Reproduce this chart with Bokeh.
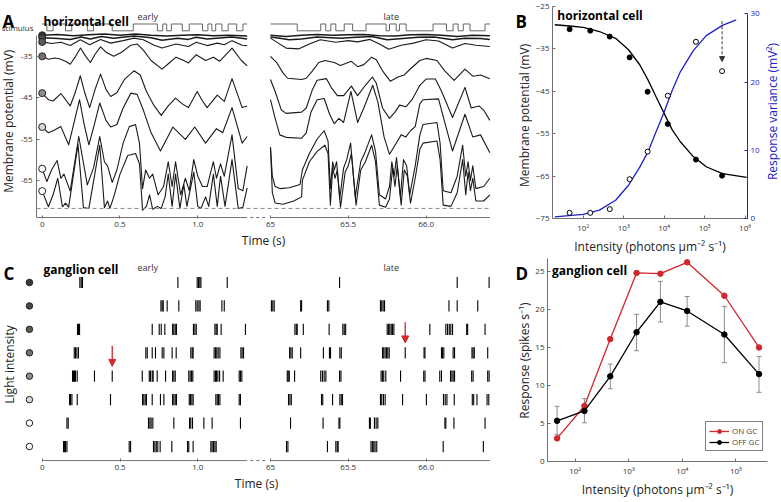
from bokeh.plotting import figure
from bokeh.models import (Range1d, LinearAxis, FixedTicker, Label, Span, Arrow,
                          NormalHead, Whisker, TeeHead, ColumnDataSource)
from bokeh.layouts import column, row
from bokeh.embed import file_html
from bokeh.resources import INLINE

FONT = "Open Sans"
RED = "#d1262c"
BLUE = "#2020c8"
AX = "#707070"
TXT = "#222222"

# ------------------------------------------------------------------ data A
hc_early_1 = [(0.0, -29.9), (0.1, -29.7), (0.2, -30.0), (0.3, -29.8), (0.4, -29.6), (0.5, -29.9), (0.6, -29.6),
              (0.7, -29.9), (0.8, -30.1), (0.9, -29.9), (1.0, -29.8), (1.1, -30.0), (1.2, -29.9), (1.317, -30.1)]
hc_early_2 = [(0.0, -30.5), (0.1, -30.7), (0.18, -30.9), (0.25, -30.3), (0.31, -30.8), (0.38, -30.2), (0.46, -30.6),
              (0.59, -30.1), (0.7, -30.5), (0.77, -31.1), (0.87, -30.6), (0.94, -30.9), (0.99, -30.4), (1.06, -30.8),
              (1.22, -30.3), (1.317, -30.8)]
hc_early_3 = [(0.0, -31.5), (0.06, -31.9), (0.12, -31.6), (0.18, -32.4), (0.245, -31.0), (0.305, -32.2), (0.375, -30.9),
              (0.44, -31.8), (0.52, -31.2), (0.59, -30.6), (0.65, -31.0), (0.72, -32.3), (0.77, -33.0), (0.86, -32.0),
              (0.94, -32.6), (0.99, -31.6), (1.06, -32.4), (1.125, -31.8), (1.17, -32.2), (1.22, -31.2), (1.285, -32.3),
              (1.317, -32.4)]
hc_early_4 = [(0.0, -35.0), (0.04, -35.7), (0.08, -35.4), (0.11, -35.6), (0.15, -36.2), (0.18, -36.9), (0.215, -35.0),
              (0.246, -33.0), (0.28, -35.0), (0.31, -36.5), (0.34, -34.5), (0.375, -32.7), (0.41, -34.0), (0.46, -35.0),
              (0.51, -34.0), (0.57, -32.3), (0.61, -32.0), (0.65, -33.5), (0.70, -36.0), (0.77, -38.1), (0.82, -36.5),
              (0.86, -35.2), (0.91, -36.0), (0.94, -36.6), (0.99, -34.6), (1.05, -36.0), (1.10, -35.2), (1.14, -36.2),
              (1.22, -33.0), (1.28, -36.0), (1.317, -37.3)]
hc_early_5 = [(0.0, -43.9), (0.04, -45.5), (0.07, -45.8), (0.12, -44.0), (0.18, -47.0), (0.21, -44.0), (0.245, -39.7),
              (0.275, -44.0), (0.305, -47.4), (0.34, -43.0), (0.375, -39.3), (0.41, -43.0), (0.44, -44.7), (0.48, -43.8),
              (0.53, -40.5), (0.59, -38.5), (0.63, -39.5), (0.67, -43.5), (0.72, -47.0), (0.765, -49.3), (0.81, -47.0),
              (0.857, -45.1), (0.90, -46.5), (0.94, -47.4), (0.996, -43.5), (1.03, -45.8), (1.06, -47.4), (1.125, -44.4),
              (1.17, -45.9), (1.22, -40.4), (1.285, -47.4), (1.317, -47.0)]
hc_early_6 = [(0.0, -52.1), (0.04, -53.5), (0.08, -52.8), (0.12, -52.0), (0.17, -56.4), (0.205, -51.0), (0.24, -45.5),
              (0.27, -51.5), (0.30, -56.4), (0.335, -51.5), (0.37, -46.3), (0.41, -50.5), (0.44, -52.1), (0.48, -51.5),
              (0.52, -47.5), (0.57, -43.9), (0.61, -44.2), (0.65, -48.0), (0.70, -53.5), (0.76, -57.9), (0.84, -52.1),
              (0.92, -55.1), (0.98, -52.1), (1.05, -56.0), (1.12, -52.5), (1.16, -53.5), (1.22, -47.4), (1.285, -56.0),
              (1.317, -54.4)]
hc_early_7 = [(0.0, -62.2), (0.03, -65.3), (0.06, -62.5), (0.096, -60.2), (0.12, -64.5), (0.14, -63.5), (0.18, -67.6),
              (0.235, -54.4), (0.29, -66.1), (0.33, -62.0), (0.37, -54.4), (0.40, -60.5), (0.42, -61.5), (0.45, -65.5),
              (0.48, -62.5), (0.52, -56.0), (0.56, -52.0), (0.60, -51.5), (0.625, -56.0), (0.645, -67.0), (0.665, -62.5),
              (0.69, -64.5), (0.71, -63.5), (0.745, -68.5), (0.78, -66.5), (0.81, -60.5), (0.835, -66.5), (0.857, -60.5),
              (0.89, -68.5), (0.92, -64.5), (0.945, -67.5), (0.974, -60.0), (1.00, -64.0), (1.03, -66.5), (1.06, -66.5),
              (1.10, -60.5), (1.12, -64.5), (1.146, -61.0), (1.17, -64.0), (1.22, -54.0), (1.26, -67.0), (1.29, -67.5),
              (1.317, -61.5)]
hc_early_8 = [(0.0, -67.6), (0.04, -71.4), (0.07, -68.5), (0.10, -64.5), (0.13, -71.4), (0.15, -70.5), (0.17, -71.5),
              (0.23, -56.3), (0.265, -71.6), (0.30, -71.8), (0.37, -56.5), (0.40, -71.6), (0.42, -70.0), (0.435, -71.8),
              (0.46, -69.0), (0.50, -63.5), (0.55, -59.0), (0.60, -58.5), (0.625, -61.0), (0.645, -72.2), (0.67, -71.3),
              (0.69, -68.5), (0.71, -72.0), (0.74, -71.3), (0.765, -71.8), (0.79, -69.0), (0.81, -63.5), (0.835, -71.3),
              (0.857, -63.5), (0.885, -71.8), (0.91, -66.0), (0.93, -71.3), (0.974, -63.0), (1.00, -71.3), (1.02, -71.8),
              (1.05, -69.0), (1.07, -71.3), (1.10, -63.5), (1.125, -71.3), (1.146, -64.0), (1.175, -71.3), (1.22, -60.0),
              (1.26, -71.8), (1.29, -71.5), (1.317, -66.8)]

hc_late_1 = [(65.0, -29.9), (65.1, -30.2), (65.2, -29.9), (65.3, -29.7), (65.4, -29.9), (65.5, -29.8), (65.6, -29.7),
             (65.7, -30.0), (65.8, -30.1), (65.9, -29.8), (66.0, -29.7), (66.1, -29.9), (66.2, -30.2), (66.3, -29.9),
             (66.41, -30.0)]
hc_late_2 = [(65.0, -30.3), (65.06, -30.6), (65.12, -31.0), (65.2, -30.8), (65.3, -30.3), (65.45, -30.6), (65.55, -30.4),
             (65.65, -30.2), (65.75, -31.0), (65.85, -30.7), (65.95, -30.4), (66.05, -30.3), (66.17, -31.0),
             (66.25, -30.6), (66.35, -30.7), (66.41, -30.9)]
hc_late_3 = [(65.0, -30.6), (65.05, -31.8), (65.1, -33.0), (65.18, -33.2), (65.25, -32.0), (65.32, -31.0), (65.42, -31.6),
             (65.5, -31.2), (65.56, -31.5), (65.64, -30.9), (65.7, -32.0), (65.76, -33.3), (65.84, -32.3), (65.92, -31.8),
             (66.0, -31.0), (66.08, -31.3), (66.17, -33.0), (66.25, -31.9), (66.32, -32.3), (66.41, -32.6)]
hc_late_4 = [(65.00, -35.0), (65.04, -36.5), (65.08, -39.0), (65.11, -40.3), (65.20, -40.6), (65.23, -40.3),
             (65.27, -38.5), (65.31, -36.5), (65.35, -36.0), (65.41, -36.5), (65.45, -37.2), (65.52, -36.2),
             (65.56, -37.5), (65.60, -37.0), (65.65, -35.2), (65.68, -35.8), (65.72, -38.5), (65.77, -41.0),
             (65.82, -40.0), (65.86, -39.5), (65.90, -38.0), (65.96, -36.0), (66.00, -35.5), (66.07, -36.0),
             (66.12, -38.5), (66.18, -40.8), (66.25, -38.1), (66.30, -39.8), (66.35, -39.5), (66.41, -40.4)]
hc_late_5 = [(65.00, -40.6), (65.03, -43.5), (65.07, -48.0), (65.10, -48.8), (65.20, -48.5), (65.23, -47.5),
             (65.27, -43.0), (65.30, -40.8), (65.36, -40.4), (65.39, -42.5), (65.43, -44.5), (65.47, -44.5),
             (65.52, -42.2), (65.56, -44.5), (65.61, -42.0), (65.655, -40.0), (65.68, -41.5), (65.72, -47.5),
             (65.765, -50.0), (65.80, -48.5), (65.83, -46.8), (65.87, -47.2), (65.91, -45.5), (65.96, -42.0),
             (66.00, -40.5), (66.06, -40.5), (66.10, -43.5), (66.17, -49.8), (66.25, -42.5), (66.29, -47.5),
             (66.34, -47.0), (66.37, -48.0), (66.41, -50.5)]
hc_late_6 = [(65.00, -45.5), (65.03, -50.0), (65.06, -54.0), (65.10, -54.6), (65.20, -54.8), (65.23, -53.5),
             (65.26, -48.5), (65.30, -45.5), (65.345, -45.2), (65.38, -49.0), (65.41, -51.3), (65.44, -50.0),
             (65.47, -51.0), (65.517, -43.5), (65.56, -51.0), (65.60, -47.5), (65.657, -42.0), (65.69, -46.0),
             (65.73, -54.5), (65.765, -58.7), (65.80, -56.5), (65.84, -54.0), (65.87, -54.5), (65.90, -53.0),
             (65.93, -52.0), (65.96, -46.5), (65.98, -45.5), (66.08, -45.3), (66.12, -51.0), (66.17, -57.9),
             (66.25, -49.0), (66.30, -54.5), (66.35, -54.0), (66.41, -58.3)]
hc_late_7 = [(65.00, -57.0), (65.012, -64.0), (65.03, -66.5), (65.06, -67.0), (65.12, -66.8), (65.19, -66.0),
             (65.205, -62.5), (65.25, -58.5), (65.30, -55.0), (65.345, -53.0), (65.37, -55.5), (65.385, -67.0),
             (65.40, -60.5), (65.41, -62.5), (65.425, -60.5), (65.445, -69.5), (65.47, -62.0), (65.49, -60.0),
             (65.515, -56.0), (65.545, -69.0), (65.58, -60.5), (65.61, -58.0), (65.65, -54.0), (65.675, -58.0),
             (65.70, -68.5), (65.74, -69.5), (65.765, -66.5), (65.78, -60.5), (65.795, -64.0), (65.81, -59.5),
             (65.835, -69.0), (65.855, -60.0), (65.875, -61.5), (65.895, -68.5), (65.93, -61.5), (65.96, -54.0),
             (65.98, -51.5), (66.07, -51.0), (66.09, -56.0), (66.11, -67.5), (66.16, -68.0), (66.20, -64.0),
             (66.235, -56.5), (66.255, -64.0), (66.27, -60.5), (66.285, -65.0), (66.30, -61.5), (66.32, -67.0),
             (66.37, -66.5), (66.41, -64.5)]
hc_late_8 = [(65.00, -57.0), (65.012, -68.0), (65.03, -70.5), (65.08, -70.8), (65.15, -70.0), (65.20, -69.0),
             (65.205, -65.0), (65.25, -60.5), (65.30, -58.0), (65.35, -56.5), (65.37, -58.5), (65.385, -71.0),
             (65.40, -62.0), (65.415, -64.5), (65.43, -62.5), (65.45, -71.5), (65.48, -63.0), (65.50, -61.5),
             (65.52, -58.5), (65.55, -71.0), (65.58, -62.5), (65.61, -60.5), (65.65, -56.5), (65.675, -60.5),
             (65.70, -71.0), (65.74, -71.5), (65.765, -69.5), (65.785, -62.0), (65.80, -66.5), (65.815, -61.5),
             (65.84, -71.0), (65.86, -62.5), (65.88, -64.0), (65.90, -70.5), (65.93, -64.5), (65.96, -57.5),
             (65.98, -56.0), (66.07, -55.5), (66.09, -60.0), (66.11, -71.0), (66.16, -71.3), (66.20, -68.0),
             (66.235, -60.0), (66.255, -68.5), (66.27, -63.0), (66.285, -67.5), (66.30, -64.5), (66.32, -70.0),
             (66.37, -70.0), (66.41, -68.5)]

hc_early = [hc_early_1, hc_early_2, hc_early_3, hc_early_4, hc_early_5, hc_early_6, hc_early_7, hc_early_8]
hc_late = [hc_late_1, hc_late_2, hc_late_3, hc_late_4, hc_late_5, hc_late_6, hc_late_7, hc_late_8]

stim_early_t = [0.0, 0.03, 0.07, 0.15, 0.19, 0.29, 0.33, 0.45, 0.585, 0.74, 0.775, 0.80, 0.83, 0.90, 0.945,
                1.03, 1.065, 1.09, 1.115, 1.155, 1.195, 1.25, 1.29, 1.317]
stim_early_lvl = [1, 0, 1, 0, 1, 0, 1, 0, 1, 0, 1, 0, 1, 0, 1, 0, 1, 0, 1, 0, 1, 0, 1, 1]
stim_late_t = [65.0, 65.172, 65.323, 65.355, 65.388, 65.420, 65.474, 65.528, 65.614, 65.743, 65.765, 65.808,
               65.829, 65.872, 66.045, 66.131, 66.174, 66.206, 66.239, 66.282, 66.379, 66.41]
stim_late_lvl = [1, 0, 1, 0, 1, 0, 1, 0, 1, 0, 1, 0, 1, 0, 1, 0, 1, 0, 1, 0, 1, 1]

baseline_mv = -71.8
a_yticks = [-35, -45, -55, -65]
light_fill = ["#3a3a3a", "#4a4a4a", "#5a5a5a", "#717171", "#8e8e8e", "#d8d8d8", "#ffffff", "#ffffff"]

# ------------------------------------------------------------------ data B
intensity = [46, 149, 452, 1400, 3900, 12300, 61000, 270000]
b_potential = [-30.35, -30.7, -32.1, -37.0, -45.1, -52.7, -61.1, -64.9]
b_variance = [0.83, 0.83, 1.37, 5.76, 9.8, 18.0, 25.9, 21.6]
b_fit_pot_x = [19.8, 46.1, 100, 251, 631, 1318, 2512, 3981, 6310, 10000, 15849, 25119, 52481, 109648, 275423, 1096478]
b_fit_pot_y = [-29.3, -29.6, -29.9, -30.9, -32.5, -35.2, -38.8, -42.3, -46.3, -50.2, -54.1, -56.9, -60.4, -62.8,
               -64.4, -65.3]
b_fit_var_x = [19.8, 100, 251, 631, 1318, 2512, 3981, 6310, 10000, 15849, 25119, 52481, 109648, 275423, 602560]
b_fit_var_y = [0.24, 0.59, 1.22, 2.68, 4.88, 7.56, 9.76, 12.7, 15.6, 18.8, 21.5, 24.6, 26.8, 28.3, 29.1]
b_arrow = (270000, 28.9, 23.0)

# ------------------------------------------------------------------ data C (spike times, s)
gc_early = [
    [0.242, 0.251, 0.259, 0.872, 0.996, 1.005, 1.013, 1.020, 1.189],
    [0.763, 0.771, 0.778, 0.803, 0.878, 0.987, 0.996, 1.007, 1.015, 1.155, 1.170],
    [0.227, 0.233, 0.240, 0.707, 0.752, 0.765, 0.788, 0.838, 0.846, 0.855, 0.863, 0.972, 0.981, 0.990, 1.110,
     1.118, 1.125, 1.150, 1.306],
    [0.206, 0.214, 0.223, 0.233, 0.666, 0.675, 0.707, 0.728, 0.771, 0.782, 0.835, 0.861, 0.955, 0.964, 0.970,
     1.105, 1.114, 1.122, 1.131, 1.142, 1.277, 1.285, 1.294],
    [0.195, 0.201, 0.208, 0.214, 0.225, 0.336, 0.450, 0.643, 0.688, 0.696, 0.707, 0.713, 0.739, 0.793, 0.838,
     0.846, 0.855, 0.942, 0.951, 0.960, 0.968, 1.105, 1.114, 1.120, 1.129, 1.140, 1.163, 1.266, 1.274, 1.283],
    [0.176, 0.182, 0.191, 0.225, 0.439, 0.645, 0.653, 0.662, 0.670, 0.707, 0.760, 0.782, 0.838, 0.846, 0.855,
     0.863, 0.945, 0.953, 0.962, 0.970, 1.116, 1.125, 1.133, 1.142, 1.266, 1.274],
    [0.159, 0.167, 0.683, 0.692, 0.700, 0.711, 0.846, 0.947, 0.955, 0.966, 1.039, 1.092, 1.274],
    [0.137, 0.144, 0.150, 0.159, 0.559, 0.568, 0.715, 0.724, 0.733, 0.743, 0.758, 0.833, 0.934, 0.942, 0.970,
     1.084, 1.092, 1.101, 1.110, 1.118],
]
gc_late = [
    [65.444, 66.200, 66.405],
    [65.006, 65.015, 65.024, 65.194, 65.200, 65.366, 65.375, 65.707, 65.715, 65.724, 65.733, 66.147, 66.200, 66.332],
    [65.157, 65.166, 65.172, 65.211, 65.377, 65.465, 65.474, 65.483, 65.750, 65.759, 65.767, 65.776, 65.784,
     65.793, 66.024, 66.127, 66.138, 66.149, 66.159, 66.170, 66.261, 66.267, 66.379],
    [65.123, 65.131, 65.140, 65.194, 65.340, 65.379, 65.386, 65.446, 65.455, 65.720, 65.728, 65.737, 65.746,
     65.754, 65.763, 65.866, 65.987, 65.993, 66.099, 66.105, 66.114, 66.174, 66.183, 66.295, 66.302, 66.310, 66.396],
    [65.108, 65.114, 65.121, 65.155, 65.323, 65.334, 65.345, 65.356, 65.444, 65.453, 65.711, 65.720, 65.728,
     65.741, 65.836, 65.985, 65.993, 66.088, 66.099, 66.157, 66.166, 66.174, 66.183, 66.293, 66.302, 66.396, 66.405],
    [65.116, 65.125, 65.134, 65.328, 65.336, 65.399, 65.446, 65.455, 65.463, 65.707, 65.715, 65.726, 65.737,
     65.849, 66.002, 66.112, 66.123, 66.134, 66.181, 66.297, 66.306, 66.327, 66.392, 66.403],
    [65.129, 65.338, 65.440, 65.446, 65.636, 65.642, 65.668, 65.679, 65.690, 66.121, 66.127, 66.179, 66.379],
    [65.103, 65.112, 65.366, 65.420, 65.429, 65.435, 65.646, 65.655, 65.664, 65.672, 65.683, 66.110, 66.368],
]
gc_arrows = [(0.450, 5), (65.866, 4)]   # (time, row) of the marked spikes

# ------------------------------------------------------------------ data D
on_gc = [3.04, 7.3, 16.1, 24.8, 24.7, 26.2, 21.8, 15.0]
off_gc = [5.35, 6.65, 11.2, 17.0, 21.0, 19.8, 16.7, 11.5]
off_hi = [7.26, 8.26, 12.8, 19.35, 23.7, 21.7, 20.4, 13.8]
off_lo = [3.57, 5.09, 9.57, 14.57, 18.35, 17.8, 13.0, 9.1]

# ------------------------------------------------------------------ layout constants
EARLY_END = 1.317
LATE_SHIFT = 65.0 - 1.467          # late times drawn shifted left to close the gap
time_ticks = [0.0, 0.5, 1.0, 65.0, 65.5, 66.0]
time_labels = ["0", "0.5", "1.0", "65", "65.5", "66.0"]
BOTTOM = 40
TOP_H = 258
BOT_H = 243


def tx(t):
    return t - LATE_SHIFT if t >= 60 else t


def style(p):
    p.xgrid.visible = False
    p.ygrid.visible = False
    p.outline_line_color = None
    p.background_fill_color = "white"
    p.border_fill_color = "white"
    for ax in p.axis:
        ax.axis_label_text_font = FONT
        ax.axis_label_text_font_size = "12px"
        ax.axis_label_text_font_style = "normal"
        ax.axis_label_text_color = TXT
        ax.axis_label_text_line_height = 1.0
        ax.axis_label_standoff = 2
        ax.major_label_text_font = FONT
        ax.major_label_text_font_size = "8px"
        ax.major_label_text_line_height = 1.0
        ax.major_label_text_color = "#333333"
        ax.major_label_standoff = 3
        ax.major_tick_in = 3
        ax.major_tick_out = 0
        ax.minor_tick_in = 0
        ax.minor_tick_out = 0
        ax.major_tick_line_color = AX
        ax.axis_line_color = AX


def fig(w, h, xr, yr, left, right, top, **kw):
    return figure(width=w, height=h, x_range=xr, y_range=yr, min_border_left=left, min_border_right=right,
                  min_border_top=top, min_border_bottom=BOTTOM, output_backend="svg", toolbar_location=None, **kw)


def gutter(w, h, yr):
    """Narrow frame beside a panel that carries the texts sitting outside the panel's own frame."""
    g = fig(w, h, Range1d(0, w), yr, 0, 0, 0)
    g.yaxis.visible = False
    g.xaxis.axis_label = " "
    style(g)
    g.xaxis.ticker = FixedTicker(ticks=[w / 2])
    g.xaxis.major_label_overrides = {w / 2: " "}
    g.xaxis.axis_line_color = None
    g.xaxis.major_tick_line_color = None
    return g


def lab(p, x, y, text, size="12px", bold=False, color=TXT, align="left", baseline="alphabetic", angle=0):
    p.add_layout(Label(x=x, y=y, text=text, text_font=FONT, text_font_size=size,
                       text_font_style="bold" if bold else "normal", text_color=color,
                       text_align=align, text_baseline=baseline, angle=angle, angle_units="deg"))


def time_axis(p, y_line, x_start):
    p.xaxis.ticker = FixedTicker(ticks=[tx(t) for t in time_ticks])
    p.xaxis.major_label_overrides = {tx(t): s for t, s in zip(time_ticks, time_labels)}
    p.xaxis.axis_line_color = None
    p.segment(x0=[x_start, tx(65.0)], y0=[y_line, y_line], x1=[EARLY_END, tx(66.41)], y1=[y_line, y_line],
              line_color=AX, line_width=1)
    p.segment(x0=[EARLY_END + 0.02], y0=[y_line], x1=[tx(65.0) - 0.02], y1=[y_line],
              line_color=AX, line_width=1, line_dash="3 3")


# ------------------------------------------------------------------ panel A
yA = Range1d(-74.235, -22.94)
gA = gutter(34, TOP_H, yA)
pA = fig(472, TOP_H, Range1d(-0.0366, 2.881), yA, 2, 16, 0)
pA.extra_y_ranges = {"stim": Range1d(-27.57, 3.57)}
pA.xaxis.axis_label = "Time (s)"
style(pA)
pA.yaxis.ticker = FixedTicker(ticks=a_yticks)
pA.yaxis.major_label_overrides = {v: "" for v in a_yticks}
pA.yaxis.major_label_standoff = 0
pA.yaxis.bounds = (-74.0, -30.0)
time_axis(pA, -74.0, -0.0366)

pA.add_layout(Span(location=baseline_mv, dimension="width", line_color="#8a8a8a", line_width=1, line_dash="4 3"))
pA.step(x=stim_early_t, y=stim_early_lvl, mode="after", y_range_name="stim", line_color="#666666", line_width=1)
pA.step(x=[tx(t) for t in stim_late_t], y=stim_late_lvl, mode="after", y_range_name="stim",
        line_color="#666666", line_width=1)
for i, (tr_e, tr_l) in enumerate(zip(hc_early, hc_late)):
    w = 1.5 if i < 2 else 1.1
    pA.line(x=[t for t, v in tr_e], y=[v for t, v in tr_e], line_color="#1a1a1a", line_width=w, line_join="round")
    pA.line(x=[tx(t) for t, v in tr_l], y=[v for t, v in tr_l], line_color="#1a1a1a", line_width=w,
            line_join="round")
pA.scatter(x=[tr[0][0] for tr in hc_early], y=[tr[0][1] for tr in hc_early], size=7,
           fill_color=light_fill, line_color="#222222", line_width=1)

lab(gA, 2, -26.47, "A", size="17px", bold=True, color="black")
lab(gA, 33, -28.1, "stimulus", size="8px", color="#333333", align="right")
for v in a_yticks:
    lab(gA, 32, v, str(v), size="8px", color="#333333", align="right", baseline="middle")
lab(gA, 8, -50.7, "Membrane potential (mV)", align="center", baseline="middle", angle=90)
lab(pA, 0.008, -26.47, "horizontal cell", bold=True, color="black")
lab(pA, 0.612, -25.29, "early", size="9px", color="#333333")
lab(pA, 2.193, -25.29, "late", size="9px", color="#333333")

# ------------------------------------------------------------------ panel B
yB = Range1d(-75, -25)
PIX_TOP = Range1d(TOP_H - BOTTOM, 0)        # gutters of the top row, measured in pixels from the top
gB = gutter(26, TOP_H, PIX_TOP)
pB = fig(231, TOP_H, Range1d(10 ** 1.24, 10 ** 6.06), yB, 18, 16, 6, x_axis_type="log")
gBR = gutter(17, TOP_H, Range1d(TOP_H - BOTTOM, 0))
pB.extra_y_ranges = {"var": Range1d(0, 31.07)}
axR = LinearAxis(y_range_name="var")
pB.add_layout(axR, "right")
pB.xaxis.axis_label = "Intensity (photons µm⁻² s⁻¹)"
style(pB)
pB.xaxis.ticker = FixedTicker(ticks=[1e2, 1e3, 1e4, 1e5, 1e6])
pB.xaxis.major_label_overrides = {1e2: "10²", 1e3: "10³", 1e4: "10⁴", 1e5: "10⁵", 1e6: "10⁶"}
pB.yaxis[0].ticker = FixedTicker(ticks=[-25, -35, -45, -55, -65, -75])
axR.ticker = FixedTicker(ticks=[0, 10, 20, 30])
axR.bounds = (0, 30)
axR.axis_line_color = BLUE
axR.major_tick_line_color = BLUE
axR.major_label_text_color = BLUE

pB.line(x=b_fit_pot_x, y=b_fit_pot_y, line_color="black", line_width=1.3)
pB.line(x=b_fit_var_x, y=b_fit_var_y, line_color=BLUE, line_width=1.3, y_range_name="var")
pB.scatter(x=intensity, y=b_potential, size=5, fill_color="black", line_color="black")
pB.scatter(x=intensity, y=b_variance, size=5, fill_color="white", line_color="black", line_width=1,
           y_range_name="var")
pB.add_layout(Arrow(end=NormalHead(size=5, fill_color="#333333", line_color="#333333"),
                    x_start=b_arrow[0], y_start=b_arrow[1], x_end=b_arrow[0], y_end=b_arrow[2],
                    line_color="#333333", line_width=1, line_dash="3 2", y_range_name="var"))
lab(gB, 9, 15, "B", size="17px", bold=True, color="black")
lab(gB, 18, 112, "Membrane potential (mV)", align="center", baseline="middle", angle=90)
lab(gBR, 9, 108, "Response variance (mV²)", color=BLUE, align="center", baseline="middle", angle=90)
lab(pB, 22.9, -27.12, "horizontal cell", bold=True, color="black")

# ------------------------------------------------------------------ panel C
C_TOP = TOP_H
yC = Range1d(8.64, -0.0243)
PIX_BOT = Range1d(C_TOP + BOT_H - BOTTOM, C_TOP)   # gutters of the bottom row, in page pixels
gC = gutter(22, BOT_H, PIX_BOT)
pC = fig(484, BOT_H, Range1d(-0.1266, 2.881), yC, 0, 16, 0)
pC.xaxis.axis_label = "Time (s)"
style(pC)
pC.yaxis.visible = False
time_axis(pC, 8.60, 0.0)

SPK = 0.24
xs, y0s, y1s = [], [], []
for r, (e, l) in enumerate(zip(gc_early, gc_late), start=1):
    for t in e + l:
        xs.append(tx(t))
        y0s.append(r - SPK)
        y1s.append(r + SPK)
pC.segment(x0=xs, y0=y0s, x1=xs, y1=y1s, line_color="black", line_width=1.1)
pC.scatter(x=[-0.082] * 8, y=list(range(1, 9)), size=6.5, fill_color=light_fill, line_color="#222222",
           line_width=1)
for t, r in gc_arrows:
    pC.add_layout(Arrow(end=NormalHead(size=7, fill_color=RED, line_color=RED),
                        x_start=tx(t), y_start=r - 1.3, x_end=tx(t), y_end=r - 0.42,
                        line_color=RED, line_width=1.3))
lab(gC, 3, C_TOP + 15, "C", size="17px", bold=True, color="black")
lab(gC, 9, C_TOP + 106, "Light intensity", align="center", baseline="middle", angle=90)
lab(pC, 0.008, 0.445, "ganglion cell", bold=True, color="black")
lab(pC, 0.612, 0.36, "early", size="9px", color="#333333")
lab(pC, 2.193, 0.36, "late", size="9px", color="#333333")

# ------------------------------------------------------------------ panel D
yD = Range1d(0, 26.7)
gD = gutter(26, BOT_H, PIX_BOT)
pD = fig(248, BOT_H, Range1d(10 ** 1.484, 10 ** 5.59), yD, 15, 13, 0, x_axis_type="log")
pD.xaxis.axis_label = "Intensity (photons µm⁻² s⁻¹)"
style(pD)
pD.xaxis.ticker = FixedTicker(ticks=[1e2, 1e3, 1e4, 1e5])
pD.xaxis.major_label_overrides = {1e2: "10²", 1e3: "10³", 1e4: "10⁴", 1e5: "10⁵"}
pD.yaxis.ticker = FixedTicker(ticks=[0, 5, 10, 15, 20, 25])

src = ColumnDataSource(dict(base=intensity, upper=off_hi, lower=off_lo))
pD.add_layout(Whisker(source=src, base="base", upper="upper", lower="lower", line_color="#8c8c8c",
                      line_width=1, level="underlay",
                      upper_head=TeeHead(size=5, line_color="#8c8c8c", line_width=1),
                      lower_head=TeeHead(size=5, line_color="#8c8c8c", line_width=1)))
pD.line(x=intensity, y=on_gc, line_color=RED, line_width=1.3, legend_label="ON GC")
pD.scatter(x=intensity, y=on_gc, size=5.5, fill_color=RED, line_color=RED, legend_label="ON GC")
pD.line(x=intensity, y=off_gc, line_color="black", line_width=1.3, legend_label="OFF GC")
pD.scatter(x=intensity, y=off_gc, size=5.5, fill_color="black", line_color="black", legend_label="OFF GC")
lg = pD.legend[0]
lg.location = (158, 10)
lg.margin = 0
lg.padding = 3
lg.spacing = 0
lg.glyph_width = 20
lg.glyph_height = 10
lg.label_height = 10
lg.label_standoff = 3
lg.label_text_font = FONT
lg.label_text_font_size = "8px"
lg.border_line_color = "black"
lg.border_line_width = 1
lg.background_fill_alpha = 1
lab(gD, 9, C_TOP + 15, "D", size="17px", bold=True, color="black")
lab(gD, 18, C_TOP + 102, "Response (spikes s⁻¹)", align="center", baseline="middle", angle=90)
lab(pD, 37.0, 25.12, "ganglion cell", bold=True, color="black")

layout = column(row(gA, pA, gB, pB, gBR), row(gC, pC, gD, pD))
open("out.html", "w").write(file_html(layout, INLINE))
